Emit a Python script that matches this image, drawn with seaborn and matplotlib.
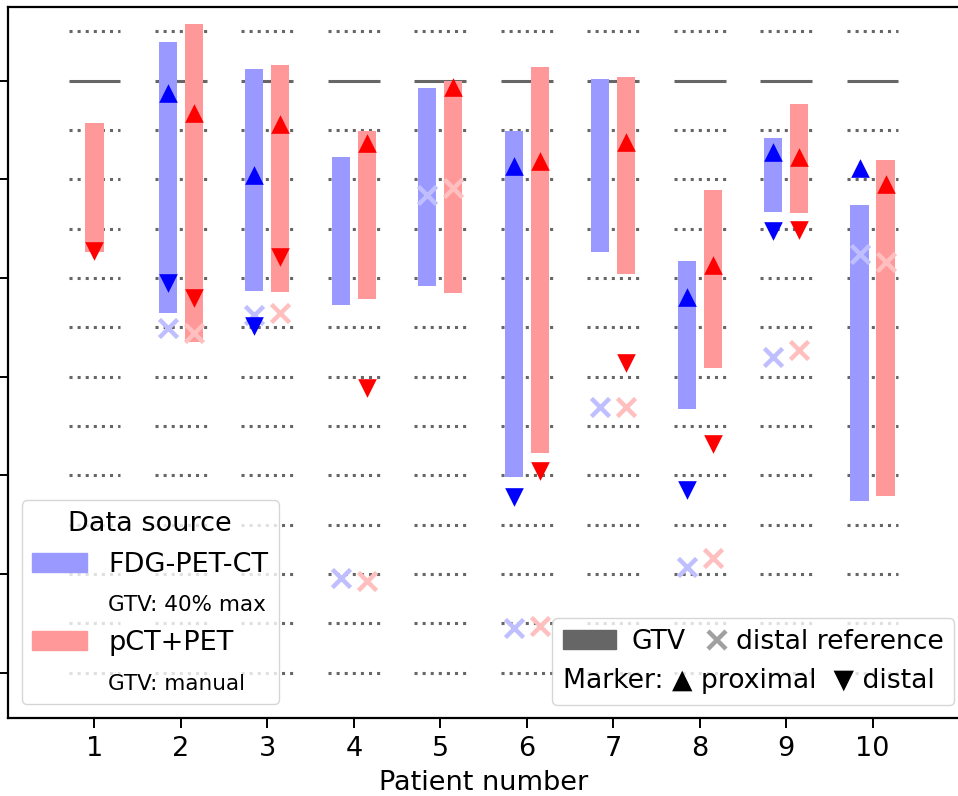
import numpy as np
import seaborn as sns
import matplotlib
matplotlib.use('Agg')
from matplotlib import pyplot as plt
from matplotlib.patches import Patch
from matplotlib.lines import Line2D
from matplotlib.legend_handler import HandlerLine2D

nan = np.nan

# patient numbers on the x axis
patients = [1, 2, 3, 4, 5, 6, 7, 8, 9, 10]

# GTV extent per data source (0 = reference line, negative = distal)
fdg_top = [nan, 0.39, 0.12, -0.78, -0.08, -0.51, 0.02, -1.83, -0.58, -1.26]
fdg_bottom = [nan, -2.36, -2.13, -2.27, -2.08, -4.02, -1.74, -3.33, -1.33, -4.26]
pet_top = [-0.43, 0.57, 0.16, -0.51, 0.00, 0.14, 0.04, -1.11, -0.24, -0.81]
pet_bottom = [-1.74, -2.65, -2.14, -2.21, -2.15, -3.77, -1.96, -2.91, -1.34, -4.21]

# proximal / distal markers
fdg_prox = [nan, -0.13, -0.96, nan, nan, -0.87, nan, -2.19, -0.72, -0.89]
fdg_dist = [nan, -2.05, -2.49, nan, nan, -4.22, nan, -4.15, -1.52, nan]
pet_prox = [nan, -0.33, -0.44, -0.63, -0.07, -0.82, -0.62, -1.87, -0.78, -1.05]
pet_dist = [-1.73, -2.20, -1.79, -3.12, nan, -3.96, -2.86, -3.68, -1.51, nan]

# distal reference
fdg_ref = [nan, -2.51, -2.38, -5.04, -1.16, -5.55, -3.31, -4.93, -2.80, -1.76]
pet_ref = [nan, -2.56, -2.36, -5.07, -1.09, -5.53, -3.31, -4.84, -2.73, -1.84]

grid_levels = [0.5] + [-0.5 * k for k in range(1, 13)]

blue_bar = '#9999ff'
red_bar = '#ff9999'
blue_x = '#bfbfff'
red_x = '#ffbfbf'
fs = 19.5
fs_small = 15.5
fs_leg2 = 19.2


class MarkerRight(HandlerLine2D):
    # single marker drawn near the right end of the handle box
    def get_xdata(self, legend, xdescent, ydescent, width, height, fontsize):
        m = -xdescent + width - 0.13 * fontsize
        return [m - 0.5, m + 0.5], [m]


fig = plt.figure(figsize=(9.58, 7.96), dpi=100)
ax = fig.add_axes([8 / 958, 78 / 796, 951 / 958, 711 / 796])

x = np.array(patients, dtype=float)
both = ~np.isnan(np.array(fdg_top))
off = np.where(both, 0.15, 0.0)
xb = x - off
xr = x + off

# background guide lines
for p in patients:
    ax.hlines(grid_levels, p - 0.3, p + 0.3, colors='#666666', linestyles=':', lw=2.2, zorder=1)
    ax.hlines(0, p - 0.3, p + 0.3, colors='#666666', lw=2.2, zorder=1)

# GTV bars
fdg_h = np.array(fdg_top) - np.array(fdg_bottom)
pet_h = np.array(pet_top) - np.array(pet_bottom)
ax.bar(xb, fdg_h, bottom=fdg_bottom, width=0.21, color=blue_bar, zorder=2)
ax.bar(xr, pet_h, bottom=pet_bottom, width=0.21, color=red_bar, zorder=2)

# distal reference crosses
sns.scatterplot(x=xb, y=fdg_ref, marker='x', s=170, color=blue_x, linewidth=3.2, zorder=3, ax=ax)
sns.scatterplot(x=xr, y=pet_ref, marker='x', s=170, color=red_x, linewidth=3.2, zorder=3, ax=ax)

# proximal / distal triangles
sns.scatterplot(x=xb, y=fdg_prox, marker='^', s=180, color='blue', linewidth=0, zorder=4, ax=ax)
sns.scatterplot(x=xb, y=fdg_dist, marker='v', s=180, color='blue', linewidth=0, zorder=4, ax=ax)
sns.scatterplot(x=xr, y=pet_prox, marker='^', s=180, color='red', linewidth=0, zorder=4, ax=ax)
sns.scatterplot(x=xr, y=pet_dist, marker='v', s=180, color='red', linewidth=0, zorder=4, ax=ax)

ax.set_xlim(0, 11)
ax.set_ylim(-6.46, 0.745)
ax.set_xticks(patients)
ax.set_xticklabels([str(p) for p in patients], fontsize=fs)
ax.set_yticks(range(-6, 1))
ax.set_yticklabels([])
ax.tick_params(length=7, width=1.4, pad=6)
ax.set_xlabel('Patient number', fontsize=fs, labelpad=6)
ax.spines['right'].set_visible(False)
for s in ['left', 'bottom', 'top']:
    ax.spines[s].set_linewidth(1.6)

# legend: data source
h1 = [Patch(color=blue_bar), Patch(color='none'), Patch(color=red_bar), Patch(color='none')]
l1 = ['FDG-PET-CT', 'GTV: 40% max', 'pCT+PET', 'GTV: manual']
leg1 = ax.legend(h1, l1, title='Data source', loc='lower left', fontsize=fs, title_fontsize=fs,
                 labelspacing=0.54)
leg1.get_texts()[1].set_fontsize(fs_small)
leg1.get_texts()[3].set_fontsize(fs_small)
ax.add_artist(leg1)

# legend: symbols, marker explanation as bottom row
xline = Line2D([], [], ls='none', marker='x', color='#a0a0a0', ms=13, mew=3.2)
h2 = [Patch(color='#666666'), xline]
leg2 = ax.legend(h2, ['GTV', 'distal reference'], ncol=2, loc='lower right',
                 bbox_to_anchor=(0.9947, 0.0183), borderaxespad=0, fontsize=fs_leg2,
                 title='Marker: \u25b2 proximal  \u25bc distal', title_fontsize=fs_leg2,
                 alignment='left', handletextpad=0.55, columnspacing=-0.66,
                 handler_map={xline: MarkerRight()})
leg2._legend_box._children.reverse()

fig.savefig('out.png', dpi=100)
